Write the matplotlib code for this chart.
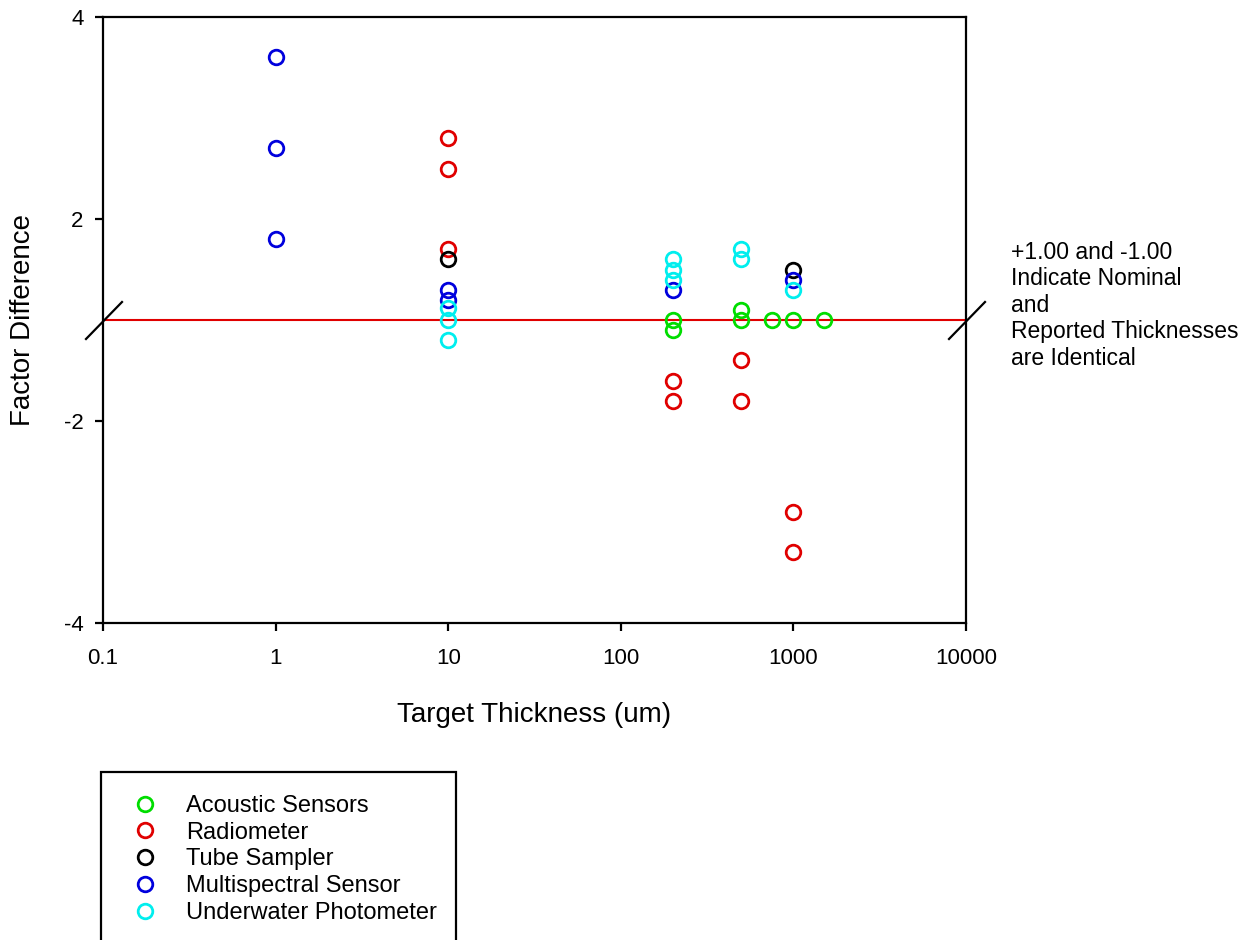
import numpy as np
import matplotlib
matplotlib.use('Agg')
import matplotlib.pyplot as plt
from matplotlib.patches import Rectangle
from matplotlib.lines import Line2D
from matplotlib.ticker import NullLocator, FixedLocator, FixedFormatter
from matplotlib.transforms import IdentityTransform, blended_transform_factory

plt.rcParams['font.family'] = ['Liberation Sans', 'DejaVu Sans']

series_names = ["Acoustic Sensors", "Radiometer", "Tube Sampler",
                "Multispectral Sensor", "Underwater Photometer"]
series_colors = ['#00dd00', '#e00000', '#000000', '#0000dd', '#00eeee']

acoustic_x = [200, 200, 500, 500, 750, 1000, 1500]
acoustic_y = [1.0, -1.1, 1.1, 1.0, 1.0, 1.0, 1.0]
radiometer_x = [10, 10, 10, 200, 200, 500, 500, 1000, 1000]
radiometer_y = [2.8, 2.5, 1.7, -1.6, -1.8, -1.4, -1.8, -2.9, -3.3]
tube_x = [10, 1000]
tube_y = [1.6, 1.5]
multi_x = [1, 1, 1, 10, 10, 200, 1000]
multi_y = [3.6, 2.7, 1.8, 1.3, 1.2, 1.3, 1.4]
photo_x = [10, 10, 10, 200, 200, 200, 500, 500, 1000]
photo_y = [1.12, 1.0, -1.2, 1.6, 1.5, 1.4, 1.7, 1.6, 1.3]

x_ticks = [0.1, 1, 10, 100, 1000, 10000]
x_tick_labels = ["0.1", "1", "10", "100", "1000", "10000"]
y_ticks = [-4, -2, 2, 4]
y_tick_labels = ["-4", "-2", "2", "4"]
nominal_value = 1.0
note_text = ("+1.00 and -1.00\nIndicate Nominal\nand\n"
             "Reported Thicknesses\nare Identical")


def fwd(y):
    y = np.asarray(y, dtype=float)
    return np.where(np.abs(y) < 1, 0.0, y - np.sign(y))


def inv(t):
    t = np.asarray(t, dtype=float)
    return t + np.sign(t)


fig = plt.figure(figsize=(12.6, 9.4), dpi=100)
ax = fig.add_axes([103 / 1260, 1 - 623 / 940, (966 - 103) / 1260, (623 - 17) / 940])

ax.set_xscale('log')
ax.set_yscale('function', functions=(fwd, inv))
ax.set_xlim(0.1, 10000)
ax.set_ylim(-4, 4)

ax.axhline(nominal_value, color='#e00000', lw=1.5, zorder=1)

all_x = [acoustic_x, radiometer_x, tube_x, multi_x, photo_x]
all_y = [acoustic_y, radiometer_y, tube_y, multi_y, photo_y]
handles = []
for xs, ys, c, name in zip(all_x, all_y, series_colors, series_names):
    h, = ax.plot(xs, ys, 'o', mfc='none', mec=c, ms=10.5, mew=2.0,
                 linestyle='none', label=name, zorder=3)
    handles.append(h)

ax.xaxis.set_major_locator(FixedLocator(x_ticks))
ax.xaxis.set_major_formatter(FixedFormatter(x_tick_labels))
ax.xaxis.set_minor_locator(NullLocator())
ax.yaxis.set_major_locator(FixedLocator(y_ticks))
ax.yaxis.set_major_formatter(FixedFormatter(y_tick_labels))
ax.yaxis.set_minor_locator(NullLocator())

for s in ax.spines.values():
    s.set_linewidth(1.6)
ax.tick_params(axis='both', direction='out', length=6, width=1.6,
               labelsize=16, top=False, right=False)
ax.tick_params(axis='x', pad=12)
ax.tick_params(axis='y', pad=8)

ax.set_xlabel("Target Thickness (um)", fontsize=20, labelpad=24)
ax.set_ylabel("Factor Difference", fontsize=20, labelpad=20)

# axis break marks at the nominal line
trans = blended_transform_factory(ax.transAxes, ax.transData)
for xa in (0, 1):
    px, py = trans.transform((xa, nominal_value))
    fig.add_artist(Line2D([px - 17, px + 19], [py - 19, py + 18],
                          transform=IdentityTransform(), color='black', lw=1.6))

fig.text(1011 / 1260, 1 - 241 / 940, note_text, fontsize=16.5, va='top', ha='left',
         linespacing=1.19)

# legend
leg = fig.legend(handles=handles, labels=series_names, loc='upper left',
                 bbox_to_anchor=(133 / 1260, 1 - 795 / 940), frameon=False,
                 fontsize=17, labelspacing=0.2, handlelength=1.0,
                 handletextpad=1.23, borderaxespad=0, borderpad=0)
fig.add_artist(Rectangle((101, -20), 355, 940 - 772 + 20,
                         transform=IdentityTransform(), fill=False,
                         lw=1.6, edgecolor='black'))

fig.savefig('out.png', dpi=100)
